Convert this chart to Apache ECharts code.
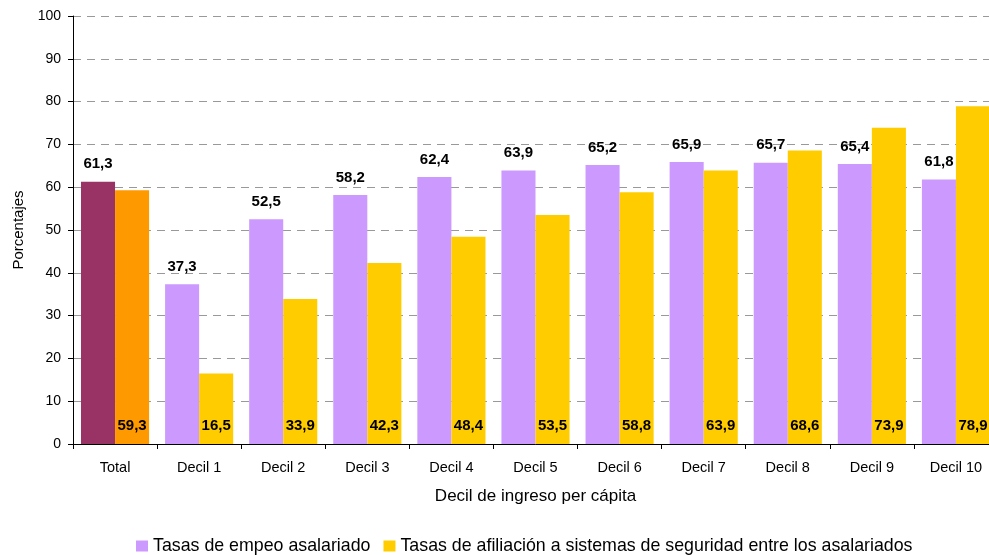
<!DOCTYPE html>
<html style="height: 100%">
<head>
<meta charset="utf-8">
<script src="https://cdn.jsdelivr.net/npm/echarts@6/dist/echarts.min.js"></script>
</head>
<body style="height: 100%; margin: 0; background: #fff; overflow: hidden">
<!-- a bit wider than the window: the last column is cut by the right edge, as in the original -->
<div id="main" style="width: 998px; height: 555px"></div>
<script type="text/javascript">
var categories = ['Total', 'Decil 1', 'Decil 2', 'Decil 3', 'Decil 4', 'Decil 5', 'Decil 6', 'Decil 7', 'Decil 8', 'Decil 9', 'Decil 10'];
var empleo = [61.3, 37.3, 52.5, 58.2, 62.4, 63.9, 65.2, 65.9, 65.7, 65.4, 61.8];
var afiliacion = [59.3, 16.5, 33.9, 42.3, 48.4, 53.5, 58.8, 63.9, 68.6, 73.9, 78.9];
var seriesNames = ['Tasas de empeo asalariado', 'Tasas de afiliación a sistemas de seguridad entre los asalariados'];

var font = 'Arial, "Liberation Sans", sans-serif';
var fmt = function (p) { return p.value.toFixed(1).replace('.', ','); };

// the Total column has its own colours
function withTotalColor(arr, color) {
    return arr.map(function (v, i) {
        return i === 0 ? { value: v, itemStyle: { color: color } } : v;
    });
}

var myChart = echarts.init(document.getElementById('main'));
var option = {
    animation: false,
    textStyle: { fontFamily: font },
    grid: { left: 73, right: 0, top: 16, bottom: 111 },
    legend: {
        data: seriesNames,
        left: 131,
        top: 532,
        itemWidth: 12,
        itemHeight: 11,
        itemGap: 13,
        icon: 'rect',
        textStyle: { fontSize: 17.8, color: '#000', fontFamily: font }
    },
    xAxis: {
        type: 'category',
        data: categories,
        name: 'Decil de ingreso per cápita',
        nameLocation: 'middle',
        nameGap: 44,
        nameTextStyle: { fontSize: 17, color: '#000', fontFamily: font },
        axisLine: { lineStyle: { color: '#000', width: 1 } },
        axisTick: { show: true, length: 5, lineStyle: { color: '#000' } },
        axisLabel: { fontSize: 14.5, color: '#000', margin: 16, fontFamily: font }
    },
    yAxis: {
        type: 'value',
        min: 0,
        max: 100,
        interval: 10,
        name: 'Porcentajes',
        nameLocation: 'middle',
        nameGap: 46,
        nameTextStyle: { fontSize: 15, color: '#000', fontFamily: font },
        axisLine: { show: true, lineStyle: { color: '#000', width: 1 } },
        axisTick: { show: true, length: 5, lineStyle: { color: '#000' } },
        axisLabel: { fontSize: 14, color: '#000', margin: 12, fontFamily: font },
        splitLine: { lineStyle: { color: '#999', type: [8, 6], width: 1 } }
    },
    series: [
        {
            name: seriesNames[0],
            type: 'bar',
            data: withTotalColor(empleo, '#993366'),
            itemStyle: { color: '#CC99FF' },
            barGap: 0,
            barCategoryGap: '19%',
            label: {
                show: true, position: 'top', distance: 10,
                formatter: fmt, fontSize: 15, fontWeight: 'bold', color: '#000', fontFamily: font
            }
        },
        {
            name: seriesNames[1],
            type: 'bar',
            data: withTotalColor(afiliacion, '#FF9900'),
            itemStyle: { color: '#FFCC00' },
            label: {
                show: true, position: 'insideBottom', distance: 11,
                formatter: fmt, fontSize: 15, fontWeight: 'bold', color: '#000', fontFamily: font
            }
        }
    ]
};
myChart.setOption(option);
</script>
</body>
</html>
